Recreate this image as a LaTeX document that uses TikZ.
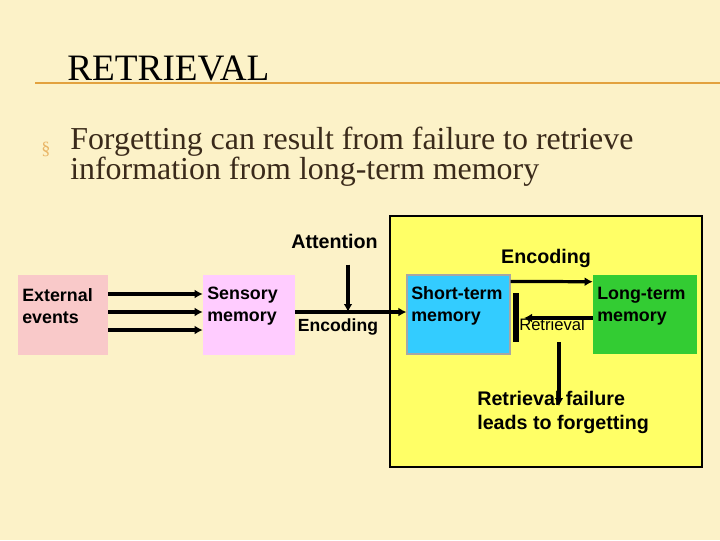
\documentclass[tikz,border=0pt]{standalone}
\usepackage{fontspec}
\setmainfont{Liberation Serif}
\setsansfont{Liberation Sans}
\usepackage{xcolor}
\usepackage{tikz}
\usetikzlibrary{arrows.meta, positioning, calc}

\definecolor{slidebg}{HTML}{FCF2C8}
\definecolor{rulecol}{HTML}{E3A23E}
\definecolor{extpink}{HTML}{F9C9C9}
\definecolor{senspink}{HTML}{FFCCFF}
\definecolor{panelyel}{HTML}{FFFF66}
\definecolor{stmblue}{HTML}{33CCFF}
\definecolor{ltmgreen}{HTML}{33CC33}
\definecolor{inktext}{HTML}{3A2A1A}

\begin{document}
\begin{tikzpicture}[
  x=0.025cm, y=-0.025cm,
  box/.style={draw=none, minimum width=2.25cm, minimum height=2cm, inner sep=0pt},
  boxtext/.style={anchor=west, align=left, inner sep=0pt, font=\sffamily\bfseries\fontsize{12.7}{15.6}\selectfont},
  tag/.style={inner sep=0pt, font=\sffamily\bfseries\fontsize{14}{17}\selectfont},
  arrow/.style={-{Latex[length=2mm, width=2.2mm]}, line width=2.3pt},
  slide/.style={font=\fontsize{22.7}{21.5}\selectfont, text=inktext}
]
  \useasboundingbox (0,0) rectangle (720,540);
  \fill[slidebg] (0,0) rectangle (720,540);

  \node[anchor=base west, inner sep=0pt, font=\fontsize{26.5}{30}\selectfont] (title) at (67,80) {RETRIEVAL};
  \draw[rulecol, line width=1.3pt] (35,83) -- (720,83);
  \node[anchor=base west, inner sep=0pt, text=rulecol!80!white, font=\fontsize{13}{13}\selectfont] (bullet) at (41,154) {\S};
  \node[slide, anchor=north west, align=left, inner sep=0pt] (point) at (70,127)
    {Forgetting can result from failure to retrieve\\information from long-term memory};

  \node[box, fill=extpink] (ext) at (63,315) {};
  \node[box, fill=senspink, minimum width=2.3cm] (sens) at (249,315) {};
  \node[box, draw=black, line width=1.5pt, fill=panelyel, minimum width=7.8cm, minimum height=6.275cm] (panel) at (546,341.5) {};
  \node[box, draw=gray!70, line width=0.8pt, fill=stmblue, minimum width=2.575cm, minimum height=1.975cm] (stm) at (458.5,314.5) {};
  \node[box, fill=ltmgreen, minimum width=2.6cm, minimum height=1.975cm] (ltm) at (645,314.5) {};
  \node[box, fill=black, minimum width=0.15cm, minimum height=1.225cm] (bar) at (516,317.5) {};

  \node[boxtext] (exttxt)  at (22,306)  {External\\events};
  \node[boxtext] (senstxt) at (207,306) {Sensory\\memory};
  \node[boxtext] (stmtxt)  at (411,306) {Short-term\\memory};
  \node[boxtext] (ltmtxt)  at (597,306) {Long-term\\memory};

  \node[tag] (att) at (334.5,241) {Attention};
  \node[tag, font=\sffamily\bfseries\fontsize{12.5}{15}\selectfont] (enclow) at (338,327) {Encoding};
  \node[tag] (enctop) at (546,258) {Encoding};
  \node[inner sep=0pt, font=\sffamily\fontsize{11.8}{14}\selectfont] (ret) at (552,325) {Retrieval};
  \node[tag, anchor=north west, align=left] (fail) at (477,391) {Retrieval failure\\leads to forgetting};

  \coordinate (attin) at (348,312);
  \coordinate (retend) at (524,318);
  \coordinate (failtop) at (559,342);
  \coordinate (failend) at (559,406);

  \draw[arrow] ([yshift=0.525cm]ext.east) -- ([yshift=0.525cm]sens.west);
  \draw[arrow] ([yshift=0.075cm]ext.east) -- ([yshift=0.075cm]sens.west);
  \draw[arrow] ([yshift=-0.375cm]ext.east) -- ([yshift=-0.375cm]sens.west);
  \draw[arrow] ([yshift=0.075cm]sens.east) -- ([yshift=0.0625cm]stm.west);
  \draw[arrow] ([yshift=-0.4cm]att.south -| attin) -- (attin);
  \draw[arrow] ([yshift=-0.175cm]stm.north east) -- ([yshift=-0.175cm]ltm.north west);
  \draw[arrow] (ltm.west |- retend) -- (retend);
  \draw[arrow] (failtop) -- (failend);
\end{tikzpicture}
\end{document}
